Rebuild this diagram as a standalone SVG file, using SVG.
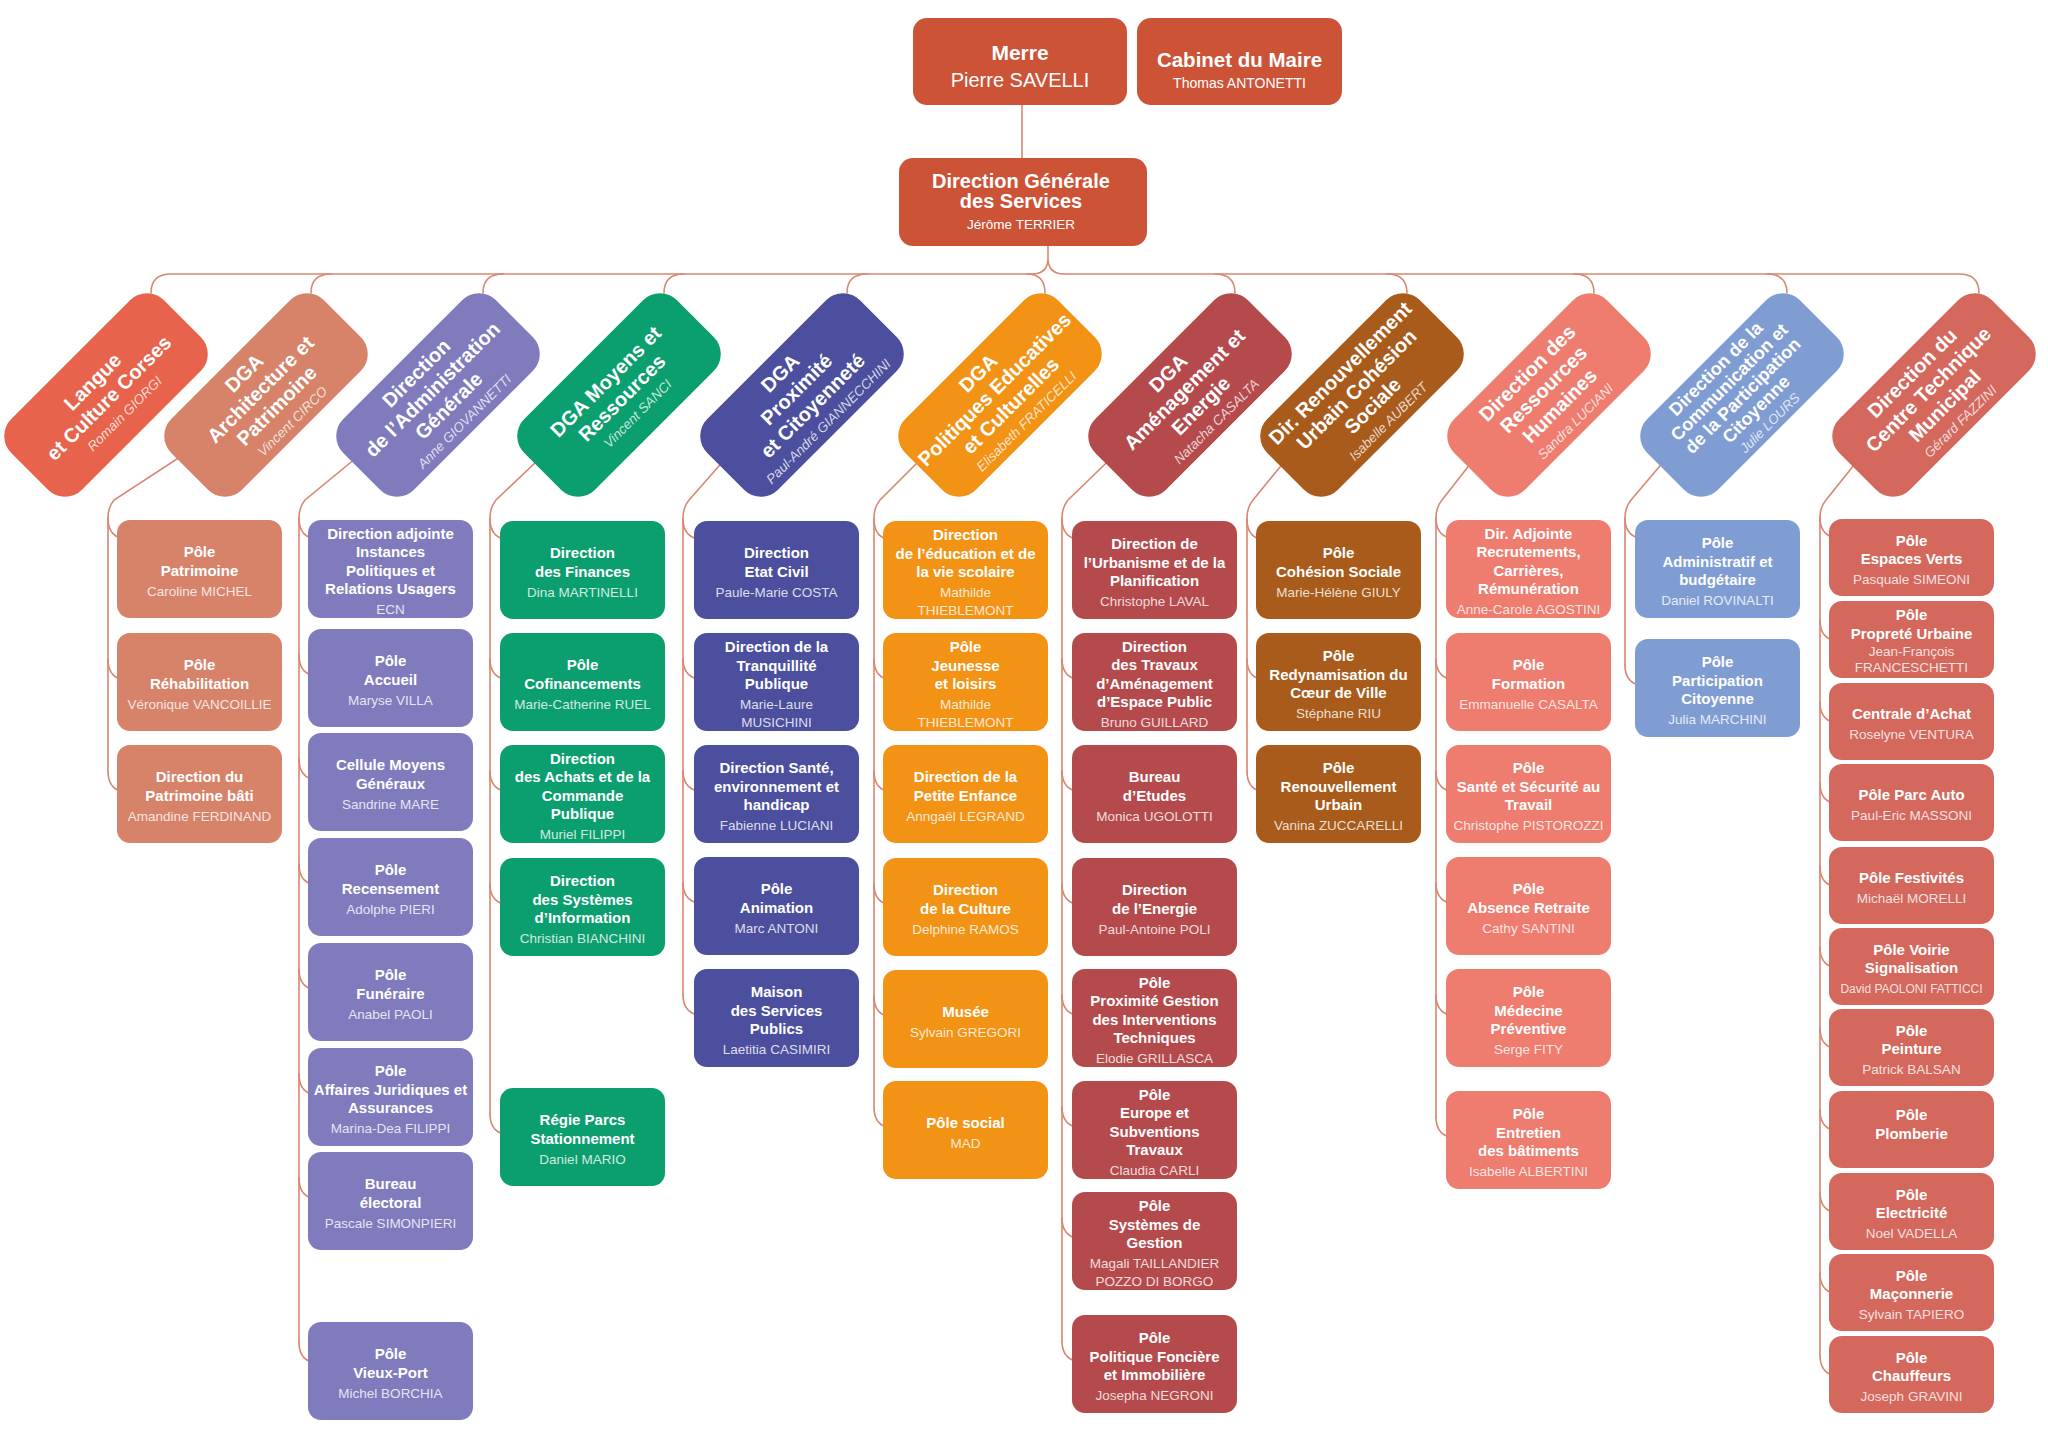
<svg xmlns="http://www.w3.org/2000/svg" width="2048" height="1448" viewBox="0 0 2048 1448">
<style>
text{font-family:"Liberation Sans",Arial,sans-serif;fill:#fff;text-anchor:middle}
.bt{font-size:15px;font-weight:700}
.nm{font-size:13.5px;font-weight:400;fill-opacity:.82}
.dt{font-size:20px;font-weight:700}
.dt10{font-size:18px;font-weight:700}
.dn{font-size:13.5px;font-weight:400;font-style:italic;fill-opacity:.78}
.con{fill:none;stroke:#d98670;stroke-width:1.6;stroke-linecap:round}
.top{fill:#cd5337}
.a1{fill:#e8634b}.a2{fill:#d6836a}.a3{fill:#7f7bbd}.a4{fill:#0b9e6f}.a5{fill:#4b4f9d}.a6{fill:#f39316}
.a7{fill:#b54a4d}.a8{fill:#a85b1b}.a9{fill:#ee7d70}.a10{fill:#7f9dd3}.a11{fill:#d4685d}
</style>
<rect width="2048" height="1448" fill="#fff"/>
<g id="connectors" class="con">
<path d="M1022,105 V158"/>
<path d="M1048,246 V258 Q1048,274 1032,274 M1048,258 Q1048,274 1064,274"/>
<path d="M1032,274 H171 Q151,274 151,293"/>
<path d="M1064,274 H1959 Q1979,274 1979,293"/>
<path d="M331,274 Q311,274 311,293"/>
<path d="M503,274 Q483,274 483,293"/>
<path d="M684,274 Q664,274 664,293"/>
<path d="M867,274 Q847,274 847,293"/>
<path d="M1027,274 Q1045,274 1045,293"/>
<path d="M1215,274 Q1235,274 1235,293"/>
<path d="M1387,274 Q1407,274 1407,293"/>
<path d="M1574,274 Q1594,274 1594,293"/>
<path d="M1767,274 Q1787,274 1787,293"/>
<!-- col1 -->
<path d="M206,440 L114,500 Q108,507 108,518 V771"/>
<path d="M108,518 Q108,534 120,538 M108,659 Q108,675 120,679 M108,771 Q108,787 120,791"/>
<!-- col2 -->
<path d="M378,440 L305,500 Q299,507 299,518 V1342"/>
<path d="M299,518 Q299,534 311,538 M299,655 Q299,671 311,675 M299,759 Q299,775 311,779 M299,864 Q299,880 311,884 M299,969 Q299,985 311,989 M299,1074 Q299,1090 311,1094 M299,1178 Q299,1194 311,1198 M299,1342 Q299,1358 311,1362"/>
<!-- col3 -->
<path d="M559,440 L496,500 Q490,507 490,518 V1114"/>
<path d="M490,519 Q490,535 503,539 M490,659 Q490,675 503,679 M490,771 Q490,787 503,791 M490,884 Q490,900 503,904 M490,1114 Q490,1130 503,1134"/>
<!-- col4 -->
<path d="M742,440 L689,500 Q683,507 683,518 V995"/>
<path d="M683,519 Q683,535 697,539 M683,659 Q683,675 697,679 M683,771 Q683,787 697,791 M683,883 Q683,899 697,903 M683,995 Q683,1011 697,1015"/>
<!-- col5 -->
<path d="M940,440 L880,500 Q874,507 874,518 V1107"/>
<path d="M874,519 Q874,535 886,539 M874,659 Q874,675 886,679 M874,771 Q874,787 886,791 M874,884 Q874,900 886,904 M874,996 Q874,1012 886,1016 M874,1107 Q874,1123 886,1127"/>
<!-- col6 -->
<path d="M1130,440 L1068,500 Q1062,507 1062,518 V1341"/>
<path d="M1062,519 Q1062,535 1075,539 M1062,659 Q1062,675 1075,679 M1062,771 Q1062,787 1075,791 M1062,884 Q1062,900 1075,904 M1062,995 Q1062,1011 1075,1015 M1062,1107 Q1062,1123 1075,1127 M1062,1218 Q1062,1234 1075,1238 M1062,1341 Q1062,1357 1075,1361"/>
<!-- col7 -->
<path d="M1302,440 L1253,500 Q1247,507 1247,518 V771"/>
<path d="M1247,519 Q1247,535 1259,539 M1247,659 Q1247,675 1259,679 M1247,771 Q1247,787 1259,791"/>
<!-- col8 -->
<path d="M1489,440 L1442,500 Q1436,507 1436,518 V1117"/>
<path d="M1436,518 Q1436,534 1449,538 M1436,659 Q1436,675 1449,679 M1436,771 Q1436,787 1449,791 M1436,883 Q1436,899 1449,903 M1436,995 Q1436,1011 1449,1015 M1436,1117 Q1436,1133 1449,1137"/>
<!-- col9 -->
<path d="M1682,440 L1631,500 Q1625,507 1625,518 V665"/>
<path d="M1625,518 Q1625,534 1638,538 M1625,665 Q1625,681 1638,685"/>
<!-- col10 -->
<path d="M1874,440 L1826,500 Q1820,507 1820,517 V1355"/>
<path d="M1820,517 Q1820,533 1832,537 M1820,620 Q1820,636 1832,640 M1820,702 Q1820,718 1832,722 M1820,783 Q1820,799 1832,803 M1820,866 Q1820,882 1832,886 M1820,947 Q1820,963 1832,967 M1820,1028 Q1820,1044 1832,1048 M1820,1110 Q1820,1126 1832,1130 M1820,1192 Q1820,1208 1832,1212 M1820,1273 Q1820,1289 1832,1293 M1820,1355 Q1820,1371 1832,1375"/>
</g>

<!-- top nodes -->
<g id="maire"><rect class="top" x="913" y="18" width="214" height="87" rx="14"/>
<text x="1020" y="60" style="font-size:21px;font-weight:700">Merre</text>
<text x="1020" y="87" style="font-size:20px">Pierre SAVELLI</text></g>
<g id="cabinet"><rect class="top" x="1137" y="18" width="205" height="87" rx="14"/>
<text x="1239.5" y="67" style="font-size:20.5px;font-weight:700">Cabinet du Maire</text>
<text x="1239.5" y="88" style="font-size:14px">Thomas ANTONETTI</text></g>
<g id="dgs"><rect class="top" x="899" y="158" width="248" height="88" rx="14"/>
<text x="1021" y="188" style="font-size:20px;font-weight:700">Direction Générale</text>
<text x="1021" y="208" style="font-size:20px;font-weight:700">des Services</text>
<text x="1021" y="229" style="font-size:13.5px">Jérôme TERRIER</text></g>

<!-- diamonds -->
<g id="d1" transform="translate(106,395) rotate(-45)"><rect class="a1" x="-108" y="-50" width="216" height="100" rx="24"/>
<text class="dt"><tspan x="0" y="-12">Langue</tspan><tspan x="0" y="11">et Culture Corses</tspan><tspan class="dn" x="0" y="31">Romain GIORGI</tspan></text></g>
<g id="d2" transform="translate(266,395) rotate(-45)"><rect class="a2" x="-108" y="-50" width="216" height="100" rx="24"/>
<text class="dt"><tspan x="0" y="-24">DGA</tspan><tspan x="0" y="-1">Architecture et</tspan><tspan x="0" y="22">Patrimoine</tspan><tspan class="dn" x="0" y="42">Vincent CIRCO</tspan></text></g>
<g id="d3" transform="translate(438,395) rotate(-45)"><rect class="a3" x="-108" y="-50" width="216" height="100" rx="24"/>
<text class="dt"><tspan x="0" y="-24">Direction</tspan><tspan x="0" y="-1">de l’Administration</tspan><tspan x="0" y="22">Générale</tspan><tspan class="dn" x="0" y="42">Anne GIOVANNETTI</tspan></text></g>
<g id="d4" transform="translate(619,395) rotate(-45)"><rect class="a4" x="-108" y="-50" width="216" height="100" rx="24"/>
<text class="dt"><tspan x="0" y="-12">DGA Moyens et</tspan><tspan x="0" y="11">Ressources</tspan><tspan class="dn" x="0" y="31">Vincent SANCI</tspan></text></g>
<g id="d5" transform="translate(802,395) rotate(-45)"><rect class="a5" x="-108" y="-50" width="216" height="100" rx="24"/>
<text class="dt"><tspan x="0" y="-24">DGA</tspan><tspan x="0" y="-1">Proximité</tspan><tspan x="0" y="22">et Citoyenneté</tspan><tspan class="dn" x="0" y="42">Paul-André GIANNECCHINI</tspan></text></g>
<g id="d6" transform="translate(1000,395) rotate(-45)"><rect class="a6" x="-108" y="-50" width="216" height="100" rx="24"/>
<text class="dt"><tspan x="0" y="-24">DGA</tspan><tspan x="0" y="-1">Politiques Educatives</tspan><tspan x="0" y="22">et Culturelles</tspan><tspan class="dn" x="0" y="42">Elisabeth FRATICELLI</tspan></text></g>
<g id="d7" transform="translate(1190,395) rotate(-45)"><rect class="a7" x="-108" y="-50" width="216" height="100" rx="24"/>
<text class="dt"><tspan x="0" y="-24">DGA</tspan><tspan x="0" y="-1">Aménagement et</tspan><tspan x="0" y="22">Energie</tspan><tspan class="dn" x="0" y="42">Natacha CASALTA</tspan></text></g>
<g id="d8" transform="translate(1362,395) rotate(-45)"><rect class="a8" x="-108" y="-50" width="216" height="100" rx="24"/>
<text class="dt"><tspan x="0" y="-24">Dir. Renouvellement</tspan><tspan x="0" y="-1">Urbain Cohésion</tspan><tspan x="0" y="22">Sociale</tspan><tspan class="dn" x="0" y="42">Isabelle AUBERT</tspan></text></g>
<g id="d9" transform="translate(1549,395) rotate(-45)"><rect class="a9" x="-108" y="-50" width="216" height="100" rx="24"/>
<text class="dt"><tspan x="0" y="-24">Direction des</tspan><tspan x="0" y="-1">Ressources</tspan><tspan x="0" y="22">Humaines</tspan><tspan class="dn" x="0" y="42">Sandra LUCIANI</tspan></text></g>
<g id="d10" transform="translate(1742,395) rotate(-45)"><rect class="a10" x="-108" y="-50" width="216" height="100" rx="24"/>
<text class="dt10"><tspan x="0" y="-31">Direction de la</tspan><tspan x="0" y="-12">Communication et</tspan><tspan x="0" y="7">de la Participation</tspan><tspan x="0" y="26">Citoyenne</tspan><tspan class="dn" x="0" y="44">Julie LOURS</tspan></text></g>
<g id="d11" transform="translate(1934,395) rotate(-45)"><rect class="a11" x="-108" y="-50" width="216" height="100" rx="24"/>
<text class="dt"><tspan x="0" y="-24">Direction du</tspan><tspan x="0" y="-1">Centre Technique</tspan><tspan x="0" y="22">Municipal</tspan><tspan class="dn" x="0" y="42">Gérard FAZZINI</tspan></text></g>

<!-- col1 -->
<g id="c1b1" transform="translate(117,520)"><rect class="a2" width="165" height="98" rx="13"/><text class="bt" y="37.3"><tspan x="82.5">Pôle</tspan><tspan x="82.5" dy="18.5">Patrimoine</tspan><tspan class="nm" x="82.5" dy="20">Caroline MICHEL</tspan></text></g>
<g id="c1b2" transform="translate(117,633)"><rect class="a2" width="165" height="98" rx="13"/><text class="bt" y="37.3"><tspan x="82.5">Pôle</tspan><tspan x="82.5" dy="18.5">Réhabilitation</tspan><tspan class="nm" x="82.5" dy="20">Véronique VANCOILLIE</tspan></text></g>
<g id="c1b3" transform="translate(117,745)"><rect class="a2" width="165" height="98" rx="13"/><text class="bt" y="37.3"><tspan x="82.5">Direction du</tspan><tspan x="82.5" dy="18.5">Patrimoine bâti</tspan><tspan class="nm" x="82.5" dy="20">Amandine  FERDINAND</tspan></text></g>

<!-- col2 -->
<g id="c2b1" transform="translate(308,520)"><rect class="a3" width="165" height="98" rx="13"/><text class="bt" y="18.8"><tspan x="82.5">Direction adjointe</tspan><tspan x="82.5" dy="18.5">Instances</tspan><tspan x="82.5" dy="18.5">Politiques et</tspan><tspan x="82.5" dy="18.5">Relations Usagers</tspan><tspan class="nm" x="82.5" dy="20">ECN</tspan></text></g>
<g id="c2b2" transform="translate(308,629)"><rect class="a3" width="165" height="98" rx="13"/><text class="bt" y="37.3"><tspan x="82.5">Pôle</tspan><tspan x="82.5" dy="18.5">Accueil</tspan><tspan class="nm" x="82.5" dy="20">Maryse VILLA</tspan></text></g>
<g id="c2b3" transform="translate(308,733)"><rect class="a3" width="165" height="98" rx="13"/><text class="bt" y="37.3"><tspan x="82.5">Cellule Moyens</tspan><tspan x="82.5" dy="18.5">Généraux</tspan><tspan class="nm" x="82.5" dy="20">Sandrine MARE</tspan></text></g>
<g id="c2b4" transform="translate(308,838)"><rect class="a3" width="165" height="98" rx="13"/><text class="bt" y="37.3"><tspan x="82.5">Pôle</tspan><tspan x="82.5" dy="18.5">Recensement</tspan><tspan class="nm" x="82.5" dy="20">Adolphe PIERI</tspan></text></g>
<g id="c2b5" transform="translate(308,943)"><rect class="a3" width="165" height="98" rx="13"/><text class="bt" y="37.3"><tspan x="82.5">Pôle</tspan><tspan x="82.5" dy="18.5">Funéraire</tspan><tspan class="nm" x="82.5" dy="20">Anabel PAOLI</tspan></text></g>
<g id="c2b6" transform="translate(308,1048)"><rect class="a3" width="165" height="98" rx="13"/><text class="bt" y="28"><tspan x="82.5">Pôle</tspan><tspan x="82.5" dy="18.5">Affaires Juridiques et</tspan><tspan x="82.5" dy="18.5">Assurances</tspan><tspan class="nm" x="82.5" dy="20">Marina-Dea FILIPPI</tspan></text></g>
<g id="c2b7" transform="translate(308,1152)"><rect class="a3" width="165" height="98" rx="13"/><text class="bt" y="37.3"><tspan x="82.5">Bureau</tspan><tspan x="82.5" dy="18.5">électoral</tspan><tspan class="nm" x="82.5" dy="20">Pascale SIMONPIERI</tspan></text></g>
<g id="c2b8" transform="translate(308,1322)"><rect class="a3" width="165" height="98" rx="13"/><text class="bt" y="37.3"><tspan x="82.5">Pôle</tspan><tspan x="82.5" dy="18.5">Vieux-Port</tspan><tspan class="nm" x="82.5" dy="20">Michel BORCHIA</tspan></text></g>

<!-- col3 -->
<g id="c3b1" transform="translate(500,521)"><rect class="a4" width="165" height="98" rx="13"/><text class="bt" y="37.3"><tspan x="82.5">Direction</tspan><tspan x="82.5" dy="18.5">des Finances</tspan><tspan class="nm" x="82.5" dy="20">Dina MARTINELLI</tspan></text></g>
<g id="c3b2" transform="translate(500,633)"><rect class="a4" width="165" height="98" rx="13"/><text class="bt" y="37.3"><tspan x="82.5">Pôle</tspan><tspan x="82.5" dy="18.5">Cofinancements</tspan><tspan class="nm" x="82.5" dy="20">Marie-Catherine RUEL</tspan></text></g>
<g id="c3b3" transform="translate(500,745)"><rect class="a4" width="165" height="98" rx="13"/><text class="bt" y="18.8"><tspan x="82.5">Direction</tspan><tspan x="82.5" dy="18.5">des Achats et de la</tspan><tspan x="82.5" dy="18.5">Commande</tspan><tspan x="82.5" dy="18.5">Publique</tspan><tspan class="nm" x="82.5" dy="20">Muriel FILIPPI</tspan></text></g>
<g id="c3b4" transform="translate(500,858)"><rect class="a4" width="165" height="98" rx="13"/><text class="bt" y="28"><tspan x="82.5">Direction</tspan><tspan x="82.5" dy="18.5">des Systèmes</tspan><tspan x="82.5" dy="18.5">d’Information</tspan><tspan class="nm" x="82.5" dy="20">Christian BIANCHINI</tspan></text></g>
<g id="c3b5" transform="translate(500,1088)"><rect class="a4" width="165" height="98" rx="13"/><text class="bt" y="37.3"><tspan x="82.5">Régie Parcs</tspan><tspan x="82.5" dy="18.5">Stationnement</tspan><tspan class="nm" x="82.5" dy="20">Daniel MARIO</tspan></text></g>

<!-- col4 -->
<g id="c4b1" transform="translate(694,521)"><rect class="a5" width="165" height="98" rx="13"/><text class="bt" y="37.3"><tspan x="82.5">Direction</tspan><tspan x="82.5" dy="18.5">Etat Civil</tspan><tspan class="nm" x="82.5" dy="20">Paule-Marie COSTA</tspan></text></g>
<g id="c4b2" transform="translate(694,633)"><rect class="a5" width="165" height="98" rx="13"/><text class="bt" y="19.3"><tspan x="82.5">Direction de la</tspan><tspan x="82.5" dy="18.5">Tranquillité</tspan><tspan x="82.5" dy="18.5">Publique</tspan><tspan class="nm" x="82.5" dy="20">Marie-Laure</tspan><tspan class="nm" x="82.5" dy="17.5">MUSICHINI</tspan></text></g>
<g id="c4b3" transform="translate(694,745)"><rect class="a5" width="165" height="98" rx="13"/><text class="bt" y="28"><tspan x="82.5">Direction Santé,</tspan><tspan x="82.5" dy="18.5">environnement et</tspan><tspan x="82.5" dy="18.5">handicap</tspan><tspan class="nm" x="82.5" dy="20">Fabienne LUCIANI</tspan></text></g>
<g id="c4b4" transform="translate(694,857)"><rect class="a5" width="165" height="98" rx="13"/><text class="bt" y="37.3"><tspan x="82.5">Pôle</tspan><tspan x="82.5" dy="18.5">Animation</tspan><tspan class="nm" x="82.5" dy="20">Marc ANTONI</tspan></text></g>
<g id="c4b5" transform="translate(694,969)"><rect class="a5" width="165" height="98" rx="13"/><text class="bt" y="28"><tspan x="82.5">Maison</tspan><tspan x="82.5" dy="18.5">des Services</tspan><tspan x="82.5" dy="18.5">Publics</tspan><tspan class="nm" x="82.5" dy="20">Laetitia CASIMIRI</tspan></text></g>

<!-- col5 -->
<g id="c5b1" transform="translate(883,521)"><rect class="a6" width="165" height="98" rx="13"/><text class="bt" y="19.3"><tspan x="82.5">Direction</tspan><tspan x="82.5" dy="18.5">de l’éducation et de</tspan><tspan x="82.5" dy="18.5">la vie scolaire</tspan><tspan class="nm" x="82.5" dy="20">Mathilde</tspan><tspan class="nm" x="82.5" dy="17.5">THIEBLEMONT</tspan></text></g>
<g id="c5b2" transform="translate(883,633)"><rect class="a6" width="165" height="98" rx="13"/><text class="bt" y="19.3"><tspan x="82.5">Pôle</tspan><tspan x="82.5" dy="18.5">Jeunesse</tspan><tspan x="82.5" dy="18.5">et loisirs</tspan><tspan class="nm" x="82.5" dy="20">Mathilde</tspan><tspan class="nm" x="82.5" dy="17.5">THIEBLEMONT</tspan></text></g>
<g id="c5b3" transform="translate(883,745)"><rect class="a6" width="165" height="98" rx="13"/><text class="bt" y="37.3"><tspan x="82.5">Direction de la</tspan><tspan x="82.5" dy="18.5">Petite Enfance</tspan><tspan class="nm" x="82.5" dy="20">Anngaël LEGRAND</tspan></text></g>
<g id="c5b4" transform="translate(883,858)"><rect class="a6" width="165" height="98" rx="13"/><text class="bt" y="37.3"><tspan x="82.5">Direction</tspan><tspan x="82.5" dy="18.5">de la Culture</tspan><tspan class="nm" x="82.5" dy="20">Delphine RAMOS</tspan></text></g>
<g id="c5b5" transform="translate(883,970)"><rect class="a6" width="165" height="98" rx="13"/><text class="bt" y="46.5"><tspan x="82.5">Musée</tspan><tspan class="nm" x="82.5" dy="20">Sylvain GREGORI</tspan></text></g>
<g id="c5b6" transform="translate(883,1081)"><rect class="a6" width="165" height="98" rx="13"/><text class="bt" y="46.5"><tspan x="82.5">Pôle social</tspan><tspan class="nm" x="82.5" dy="20">MAD</tspan></text></g>

<!-- col6 -->
<g id="c6b1" transform="translate(1072,521)"><rect class="a7" width="165" height="98" rx="13"/><text class="bt" y="28"><tspan x="82.5">Direction de</tspan><tspan x="82.5" dy="18.5">l’Urbanisme et de la</tspan><tspan x="82.5" dy="18.5">Planification</tspan><tspan class="nm" x="82.5" dy="20">Christophe LAVAL</tspan></text></g>
<g id="c6b2" transform="translate(1072,633)"><rect class="a7" width="165" height="98" rx="13"/><text class="bt" y="18.8"><tspan x="82.5">Direction</tspan><tspan x="82.5" dy="18.5">des Travaux</tspan><tspan x="82.5" dy="18.5">d’Aménagement</tspan><tspan x="82.5" dy="18.5">d’Espace Public</tspan><tspan class="nm" x="82.5" dy="20">Bruno GUILLARD</tspan></text></g>
<g id="c6b3" transform="translate(1072,745)"><rect class="a7" width="165" height="98" rx="13"/><text class="bt" y="37.3"><tspan x="82.5">Bureau</tspan><tspan x="82.5" dy="18.5">d’Etudes</tspan><tspan class="nm" x="82.5" dy="20">Monica UGOLOTTI</tspan></text></g>
<g id="c6b4" transform="translate(1072,858)"><rect class="a7" width="165" height="98" rx="13"/><text class="bt" y="37.3"><tspan x="82.5">Direction</tspan><tspan x="82.5" dy="18.5">de l’Energie</tspan><tspan class="nm" x="82.5" dy="20">Paul-Antoine POLI</tspan></text></g>
<g id="c6b5" transform="translate(1072,969)"><rect class="a7" width="165" height="98" rx="13"/><text class="bt" y="18.8"><tspan x="82.5">Pôle</tspan><tspan x="82.5" dy="18.5">Proximité Gestion</tspan><tspan x="82.5" dy="18.5">des Interventions</tspan><tspan x="82.5" dy="18.5">Techniques</tspan><tspan class="nm" x="82.5" dy="20">Elodie GRILLASCA</tspan></text></g>
<g id="c6b6" transform="translate(1072,1081)"><rect class="a7" width="165" height="98" rx="13"/><text class="bt" y="18.8"><tspan x="82.5">Pôle</tspan><tspan x="82.5" dy="18.5">Europe et</tspan><tspan x="82.5" dy="18.5">Subventions</tspan><tspan x="82.5" dy="18.5">Travaux</tspan><tspan class="nm" x="82.5" dy="20">Claudia CARLI</tspan></text></g>
<g id="c6b7" transform="translate(1072,1192)"><rect class="a7" width="165" height="98" rx="13"/><text class="bt" y="19.3"><tspan x="82.5">Pôle</tspan><tspan x="82.5" dy="18.5">Systèmes de</tspan><tspan x="82.5" dy="18.5">Gestion</tspan><tspan class="nm" x="82.5" dy="20">Magali TAILLANDIER</tspan><tspan class="nm" x="82.5" dy="17.5">POZZO DI BORGO</tspan></text></g>
<g id="c6b8" transform="translate(1072,1315)"><rect class="a7" width="165" height="98" rx="13"/><text class="bt" y="28"><tspan x="82.5">Pôle</tspan><tspan x="82.5" dy="18.5">Politique Foncière</tspan><tspan x="82.5" dy="18.5">et Immobilière</tspan><tspan class="nm" x="82.5" dy="20">Josepha NEGRONI</tspan></text></g>

<!-- col7 -->
<g id="c7b1" transform="translate(1256,521)"><rect class="a8" width="165" height="98" rx="13"/><text class="bt" y="37.3"><tspan x="82.5">Pôle</tspan><tspan x="82.5" dy="18.5">Cohésion Sociale</tspan><tspan class="nm" x="82.5" dy="20">Marie-Hélène GIULY</tspan></text></g>
<g id="c7b2" transform="translate(1256,633)"><rect class="a8" width="165" height="98" rx="13"/><text class="bt" y="28"><tspan x="82.5">Pôle</tspan><tspan x="82.5" dy="18.5">Redynamisation du</tspan><tspan x="82.5" dy="18.5">Cœur de Ville</tspan><tspan class="nm" x="82.5" dy="20">Stéphane RIU</tspan></text></g>
<g id="c7b3" transform="translate(1256,745)"><rect class="a8" width="165" height="98" rx="13"/><text class="bt" y="28"><tspan x="82.5">Pôle</tspan><tspan x="82.5" dy="18.5">Renouvellement</tspan><tspan x="82.5" dy="18.5">Urbain</tspan><tspan class="nm" x="82.5" dy="20">Vanina ZUCCARELLI</tspan></text></g>

<!-- col8 -->
<g id="c8b1" transform="translate(1446,520)"><rect class="a9" width="165" height="98" rx="13"/><text class="bt" y="18.8"><tspan x="82.5">Dir. Adjointe</tspan><tspan x="82.5" dy="18.5">Recrutements,</tspan><tspan x="82.5" dy="18.5">Carrières,</tspan><tspan x="82.5" dy="18.5">Rémunération</tspan><tspan class="nm" x="82.5" dy="20">Anne-Carole AGOSTINI</tspan></text></g>
<g id="c8b2" transform="translate(1446,633)"><rect class="a9" width="165" height="98" rx="13"/><text class="bt" y="37.3"><tspan x="82.5">Pôle</tspan><tspan x="82.5" dy="18.5">Formation</tspan><tspan class="nm" x="82.5" dy="20">Emmanuelle CASALTA</tspan></text></g>
<g id="c8b3" transform="translate(1446,745)"><rect class="a9" width="165" height="98" rx="13"/><text class="bt" y="28"><tspan x="82.5">Pôle</tspan><tspan x="82.5" dy="18.5">Santé et Sécurité au</tspan><tspan x="82.5" dy="18.5">Travail</tspan><tspan class="nm" x="82.5" dy="20">Christophe PISTOROZZI</tspan></text></g>
<g id="c8b4" transform="translate(1446,857)"><rect class="a9" width="165" height="98" rx="13"/><text class="bt" y="37.3"><tspan x="82.5">Pôle</tspan><tspan x="82.5" dy="18.5">Absence Retraite</tspan><tspan class="nm" x="82.5" dy="20">Cathy SANTINI</tspan></text></g>
<g id="c8b5" transform="translate(1446,969)"><rect class="a9" width="165" height="98" rx="13"/><text class="bt" y="28"><tspan x="82.5">Pôle</tspan><tspan x="82.5" dy="18.5">Médecine</tspan><tspan x="82.5" dy="18.5">Préventive</tspan><tspan class="nm" x="82.5" dy="20">Serge FITY</tspan></text></g>
<g id="c8b6" transform="translate(1446,1091)"><rect class="a9" width="165" height="98" rx="13"/><text class="bt" y="28"><tspan x="82.5">Pôle</tspan><tspan x="82.5" dy="18.5">Entretien</tspan><tspan x="82.5" dy="18.5">des bâtiments</tspan><tspan class="nm" x="82.5" dy="20">Isabelle ALBERTINI</tspan></text></g>

<!-- col9 -->
<g id="c9b1" transform="translate(1635,520)"><rect class="a10" width="165" height="98" rx="13"/><text class="bt" y="28"><tspan x="82.5">Pôle</tspan><tspan x="82.5" dy="18.5">Administratif et</tspan><tspan x="82.5" dy="18.5">budgétaire</tspan><tspan class="nm" x="82.5" dy="20">Daniel ROVINALTI</tspan></text></g>
<g id="c9b2" transform="translate(1635,639)"><rect class="a10" width="165" height="98" rx="13"/><text class="bt" y="28"><tspan x="82.5">Pôle</tspan><tspan x="82.5" dy="18.5">Participation</tspan><tspan x="82.5" dy="18.5">Citoyenne</tspan><tspan class="nm" x="82.5" dy="20">Julia MARCHINI</tspan></text></g>

<!-- col10 -->
<g id="c10b1" transform="translate(1829,519)"><rect class="a11" width="165" height="77" rx="13"/><text class="bt" y="26.8"><tspan x="82.5">Pôle</tspan><tspan x="82.5" dy="18.5">Espaces Verts</tspan><tspan class="nm" x="82.5" dy="20">Pasquale SIMEONI</tspan></text></g>
<g id="c10b2" transform="translate(1829,601)"><rect class="a11" width="165" height="77" rx="13"/><text class="bt" y="19"><tspan x="82.5">Pôle</tspan><tspan x="82.5" dy="18.5">Propreté Urbaine</tspan><tspan class="nm" x="82.5" dy="17">Jean-François</tspan><tspan class="nm" x="82.5" dy="16">FRANCESCHETTI</tspan></text></g>
<g id="c10b3" transform="translate(1829,683)"><rect class="a11" width="165" height="77" rx="13"/><text class="bt" y="36"><tspan x="82.5">Centrale d’Achat</tspan><tspan class="nm" x="82.5" dy="20">Roselyne VENTURA</tspan></text></g>
<g id="c10b4" transform="translate(1829,764)"><rect class="a11" width="165" height="77" rx="13"/><text class="bt" y="36"><tspan x="82.5">Pôle Parc Auto</tspan><tspan class="nm" x="82.5" dy="20">Paul-Eric MASSONI</tspan></text></g>
<g id="c10b5" transform="translate(1829,847)"><rect class="a11" width="165" height="77" rx="13"/><text class="bt" y="36"><tspan x="82.5">Pôle Festivités</tspan><tspan class="nm" x="82.5" dy="20">Michaël  MORELLI</tspan></text></g>
<g id="c10b6" transform="translate(1829,928)"><rect class="a11" width="165" height="77" rx="13"/><text class="bt" y="26.8"><tspan x="82.5">Pôle Voirie</tspan><tspan x="82.5" dy="18.5">Signalisation</tspan><tspan class="nm" x="82.5" dy="20" style="font-size:12px">David PAOLONI FATTICCI</tspan></text></g>
<g id="c10b7" transform="translate(1829,1009)"><rect class="a11" width="165" height="77" rx="13"/><text class="bt" y="26.8"><tspan x="82.5">Pôle</tspan><tspan x="82.5" dy="18.5">Peinture</tspan><tspan class="nm" x="82.5" dy="20">Patrick BALSAN</tspan></text></g>
<g id="c10b8" transform="translate(1829,1091)"><rect class="a11" width="165" height="77" rx="13"/><text class="bt" y="29"><tspan x="82.5">Pôle</tspan><tspan x="82.5" dy="18.5">Plomberie</tspan></text></g>
<g id="c10b9" transform="translate(1829,1173)"><rect class="a11" width="165" height="77" rx="13"/><text class="bt" y="26.8"><tspan x="82.5">Pôle</tspan><tspan x="82.5" dy="18.5">Electricité</tspan><tspan class="nm" x="82.5" dy="20">Noel VADELLA</tspan></text></g>
<g id="c10b10" transform="translate(1829,1254)"><rect class="a11" width="165" height="77" rx="13"/><text class="bt" y="26.8"><tspan x="82.5">Pôle</tspan><tspan x="82.5" dy="18.5">Maçonnerie</tspan><tspan class="nm" x="82.5" dy="20">Sylvain TAPIERO</tspan></text></g>
<g id="c10b11" transform="translate(1829,1336)"><rect class="a11" width="165" height="77" rx="13"/><text class="bt" y="26.8"><tspan x="82.5">Pôle</tspan><tspan x="82.5" dy="18.5">Chauffeurs</tspan><tspan class="nm" x="82.5" dy="20">Joseph GRAVINI</tspan></text></g>
</svg>
